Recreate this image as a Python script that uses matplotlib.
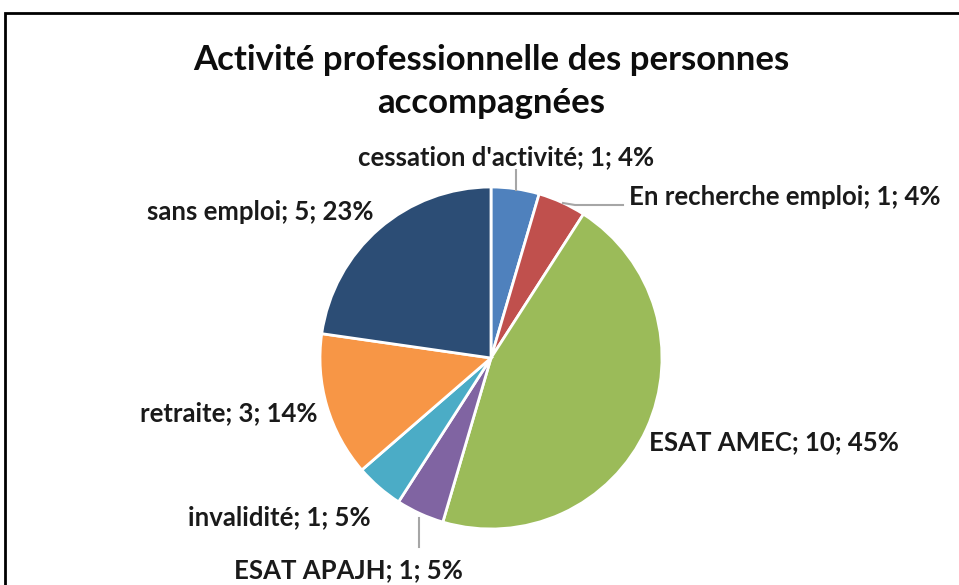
import matplotlib.pyplot as plt
from matplotlib.patches import Rectangle

plt.rcParams['font.family'] = ['Lato', 'DejaVu Sans']

labels = ["cessation d'activité", "En recherche emploi", "ESAT AMEC", "ESAT APAJH",
          "invalidité", "retraite", "sans emploi"]
values = [1, 1, 10, 1, 1, 3, 5]
pcts = ["4%", "4%", "45%", "5%", "5%", "14%", "23%"]
colors = ["#4F81BD", "#C0504D", "#9BBB59", "#8064A2", "#4BACC6", "#F79646", "#2C4D75"]

W, H = 959, 585
fig = plt.figure(figsize=(W / 100, H / 100), dpi=100)
ax = fig.add_axes([0, 0, 1, 1])

# chart frame (cut off at right and bottom)
ax.add_patch(Rectangle((5, -20), W + 20, H - 13 + 20, fill=False, ec='black', lw=2))

cx, cy, r = 491, H - 358, 171
ax.pie(values, colors=colors, startangle=90, counterclock=False, center=(cx, cy),
       radius=r, wedgeprops=dict(edgecolor='white', linewidth=2), frame=True)
ax.set_xlim(0, W)
ax.set_ylim(0, H)
ax.set_aspect('auto')
ax.axis('off')

ax.text(491, H - 60, "Activité professionnelle des personnes", ha='center', va='center',
        fontsize=25, fontweight='bold', color='#0d0d0d')
ax.text(491, H - 103, "accompagnées", ha='center', va='center', fontsize=25,
        fontweight='bold', color='#0d0d0d')

pos = [(506, 157), (785, 197), (774, 442), (348, 570), (279, 517), (229, 413), (260, 212)]
for lab, v, p, (x, y) in zip(labels, values, pcts, pos):
    ax.text(x, H - y, f"{lab}; {v}; {p}", ha='center', va='center', fontsize=18.5,
            fontweight='bold', color='#1a1a1a')

lc = '#A6A6A6'
ax.plot([516, 516], [H - 190, H - 170], color=lc, lw=1.5)
ax.plot([563, 575, 623], [H - 203, H - 205, H - 205], color=lc, lw=1.5)
ax.plot([419, 419], [H - 518, H - 547], color=lc, lw=1.5)

fig.savefig('out.png', dpi=100)
